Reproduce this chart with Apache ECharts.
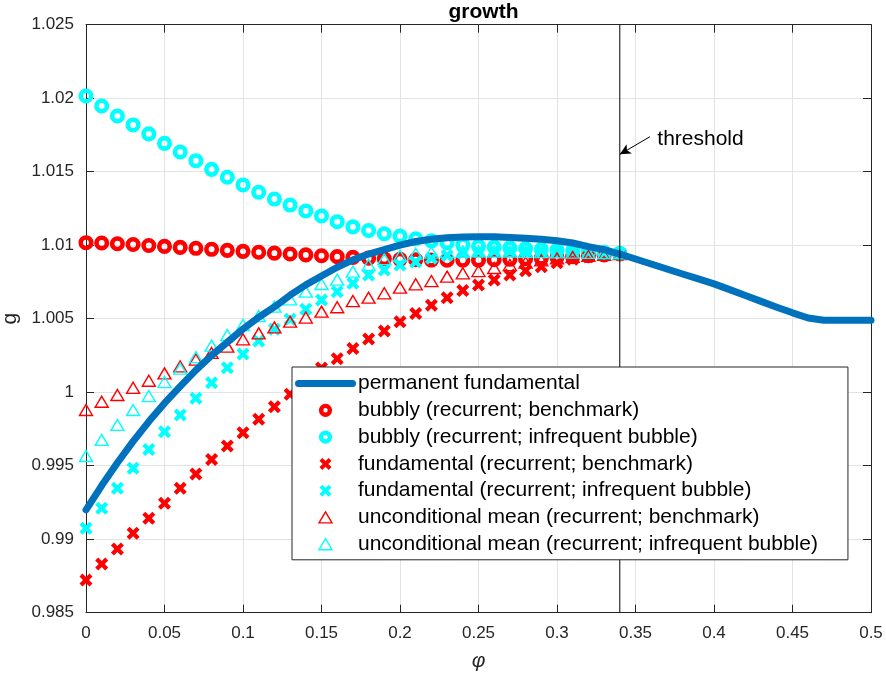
<!DOCTYPE html>
<html>
<head>
<meta charset="utf-8">
<script src="https://cdn.jsdelivr.net/npm/echarts/dist/echarts.min.js"></script>
<style>
html,body{margin:0;padding:0;background:#fff;}
#chart{width:886px;height:676px;}
</style>
</head>
<body>
<div id="chart"></div>
<script>
// ---------- data ----------
const phi = [0,0.01,0.02,0.03,0.04,0.05,0.06,0.07,0.08,0.09,0.10,0.11,0.12,0.13,0.14,0.15,0.16,0.17,0.18,0.19,0.20,0.21,0.22,0.23,0.24,0.25,0.26,0.27,0.28,0.29,0.30,0.31,0.32,0.33,0.34];

const bubblyBench = [1.01017,1.01015,1.01010,1.01005,1.00998,1.00992,1.00985,1.00979,1.00972,1.00965,1.00958,1.00952,1.00946,1.00940,1.00934,1.00928,1.00922,1.00917,1.00912,1.00908,1.00904,1.00901,1.00899,1.00898,1.00898,1.00899,1.00901,1.00904,1.00908,1.00912,1.00917,1.00922,1.00928,1.00934,1.00940];

const bubblyInfreq = [1.02015,1.01947,1.01879,1.01818,1.01757,1.01693,1.01634,1.01575,1.01516,1.01462,1.01410,1.01360,1.01314,1.01273,1.01233,1.01199,1.01160,1.01125,1.01100,1.01078,1.01062,1.01044,1.01030,1.01017,1.01003,1.00993,1.00987,1.00982,1.00977,1.00972,1.00967,1.00962,1.00957,1.00951,1.00945];

const fundBench = [0.98722,0.98831,0.98933,0.99040,0.99142,0.99244,0.99346,0.99443,0.99543,0.99634,0.99724,0.99816,0.99901,0.99986,1.00075,1.00165,1.00228,1.00298,1.00362,1.00416,1.00480,1.00535,1.00591,1.00642,1.00692,1.00729,1.00764,1.00798,1.00826,1.00854,1.00881,1.00904,1.00922,1.00933,1.00940];

const fundInfreq = [0.99074,0.99210,0.99346,0.99482,0.99611,0.99731,0.99845,0.99959,1.00065,1.00167,1.00260,1.00348,1.00428,1.00496,1.00564,1.00627,1.00684,1.00741,1.00797,1.00831,1.00865,1.00886,1.00911,1.00930,1.00945,1.00955,1.00960,1.00960,1.00960,1.00958,1.00956,1.00954,1.00951,1.00948,1.00945];

const uncondBench = [0.99879,0.99935,0.99981,1.00030,1.00078,1.00128,1.00175,1.00222,1.00267,1.00310,1.00360,1.00400,1.00441,1.00480,1.00508,1.00548,1.00578,1.00620,1.00643,1.00673,1.00711,1.00734,1.00756,1.00786,1.00809,1.00824,1.00845,1.00865,1.00882,1.00897,1.00910,1.00920,1.00928,1.00935,1.00940];

const uncondInfreq = [0.99566,0.99675,0.99777,0.99879,0.99974,1.00069,1.00160,1.00239,1.00317,1.00389,1.00457,1.00518,1.00582,1.00632,1.00684,1.00736,1.00766,1.00820,1.00865,1.00905,1.00928,1.00942,1.00950,1.00955,1.00957,1.00958,1.00957,1.00956,1.00955,1.00953,1.00951,1.00950,1.00948,1.00946,1.00945];

const permPhi = [0,0.01,0.02,0.03,0.04,0.05,0.06,0.07,0.08,0.09,0.10,0.11,0.12,0.13,0.14,0.15,0.16,0.17,0.18,0.19,0.20,0.21,0.22,0.23,0.24,0.25,0.26,0.27,0.28,0.29,0.30,0.31,0.32,0.33,0.34,0.35,0.36,0.37,0.38,0.39,0.40,0.41,0.42,0.43,0.44,0.45,0.46,0.47,0.48,0.49,0.50];
const permFund = [0.9920,0.99365,0.9952,0.99665,0.9980,0.99925,1.0004,1.0015,1.0025,1.0034,1.0043,1.0051,1.0058,1.0066,1.0073,1.0079,1.0085,1.0090,1.0094,1.0097,1.0100,1.01025,1.0104,1.0105,1.01055,1.01058,1.01057,1.01053,1.01047,1.0104,1.0103,1.01015,1.0099,1.0097,1.0094,1.00906,1.00872,1.00838,1.00804,1.00771,1.00737,1.00698,1.00658,1.00618,1.00578,1.00540,1.00505,1.0049,1.0049,1.0049,1.0049];

const threshold = 0.34;
const arrowFrom = [0.3592, 1.01738];
const arrowTo = [0.3400, 1.01618];
const thresholdTextAt = [0.3639, 1.01722];

const names = [
  'permanent fundamental',
  'bubbly (recurrent; benchmark)',
  'bubbly (recurrent; infrequent bubble)',
  'fundamental (recurrent; benchmark)',
  'fundamental (recurrent; infrequent bubble)',
  'unconditional mean (recurrent; benchmark)',
  'unconditional mean (recurrent; infrequent bubble)'
];

// ---------- styling ----------
const RED = '#FF0000', CYAN = '#00FFFF', BLUE = '#0072BD', AX = '#262626';
const FONT = '"Liberation Sans", Arial, Helvetica, sans-serif';
const X_PATH = 'path://M0,3L3,0L6.5,3.5L10,0L13,3L9.5,6.5L13,10L10,13L6.5,9.5L3,13L0,10L3.5,6.5Z';
// legend icons padded inside a 14x14 (or 61x14) box so they keep their size
const LEG_LINE = 'path://M0,0M61,14M3.5,3.5H57.5A3.5,3.5,0,0,1,57.5,10.5H3.5A3.5,3.5,0,0,1,3.5,3.5Z';
const LEG_CIRCLE = 'path://M0,0M14,14M11.4,7A4.4,4.4,0,1,1,2.6,7A4.4,4.4,0,1,1,11.4,7Z';
const LEG_X = 'path://M0,0M14,14M1,3.8L3.8,1L7,4.2L10.2,1L13,3.8L9.8,7L13,10.2L10.2,13L7,9.8L3.8,13L1,10.2L4.2,7Z';
const LEG_TRI = 'path://M0,0M14,14M7,1.4L13.5,12.4L0.5,12.4Z';

const zip = (xs, ys) => xs.map((x, i) => [x, ys[i]]);
const fmt = v => String(+v.toFixed(4));

function scatter(name, ys, kind, color) {
  const s = { name, type: 'scatter', data: zip(phi, ys), silent: true, animation: false };
  if (kind === 'o') {
    s.symbol = 'circle'; s.symbolSize = 10.5;
    s.itemStyle = { color: 'rgba(0,0,0,0)', borderColor: color, borderWidth: 4.6, opacity: 1 };
  } else if (kind === 'x') {
    s.symbol = X_PATH; s.symbolSize = 13;
    s.itemStyle = { color: color, borderWidth: 0, opacity: 1 };
  } else {
    s.symbol = 'triangle'; s.symbolSize = [13, 11];
    s.itemStyle = { color: 'rgba(0,0,0,0)', borderColor: color, borderWidth: 1.4, opacity: 1 };
  }
  return s;
}

const chart = echarts.init(document.getElementById('chart'), null, { renderer: 'canvas' });

const option = {
  animation: false,
  backgroundColor: '#fff',
  title: {
    text: 'growth', left: 478.5, top: -3, textAlign: 'center',
    textStyle: { fontFamily: FONT, fontSize: 21, fontWeight: 'bold', color: '#000' }
  },
  grid: { left: 86, right: 15, top: 24.7, bottom: 63.3, containLabel: false, outerBoundsMode: 'none' },
  xAxis: [
    {
      type: 'value', min: 0, max: 0.5, interval: 0.05, position: 'bottom',
      name: 'φ', nameLocation: 'middle', nameGap: 38,
      nameTextStyle: { fontFamily: FONT, fontSize: 21, fontStyle: 'italic', color: AX },
      axisLine: { show: true, onZero: false, lineStyle: { color: AX, width: 1 } },
      axisTick: { show: true, inside: true, length: 8, lineStyle: { color: AX } },
      axisLabel: { formatter: fmt, fontFamily: FONT, fontSize: 17, color: AX, margin: 12 },
      splitLine: { show: true, lineStyle: { color: '#e3e3e3', width: 1 } }
    },
    {
      type: 'value', min: 0, max: 0.5, interval: 0.05, position: 'top',
      axisLine: { show: true, onZero: false, lineStyle: { color: AX, width: 1 } },
      axisTick: { show: true, inside: true, length: 8, lineStyle: { color: AX } },
      axisLabel: { show: false }, splitLine: { show: false }
    }
  ],
  yAxis: [
    {
      type: 'value', min: 0.985, max: 1.025, interval: 0.005, position: 'left',
      name: 'g', nameLocation: 'middle', nameGap: 55, nameRotate: 90,
      nameTextStyle: { fontFamily: FONT, fontSize: 21, color: AX },
      axisLine: { show: true, onZero: false, lineStyle: { color: AX, width: 1 } },
      axisTick: { show: true, inside: true, length: 8, lineStyle: { color: AX } },
      axisLabel: { formatter: fmt, fontFamily: FONT, fontSize: 17, color: AX, margin: 12 },
      splitLine: { show: true, lineStyle: { color: '#e3e3e3', width: 1 } }
    },
    {
      type: 'value', min: 0.985, max: 1.025, interval: 0.005, position: 'right',
      axisLine: { show: true, onZero: false, lineStyle: { color: AX, width: 1 } },
      axisTick: { show: true, inside: true, length: 8, lineStyle: { color: AX } },
      axisLabel: { show: false }, splitLine: { show: false }
    }
  ],
  legend: {
    orient: 'vertical', left: 292, top: 367,
    itemWidth: 61, itemHeight: 14, itemGap: 5.8,
    padding: [6, 30, 5, 3],
    backgroundColor: '#fff', borderColor: AX, borderWidth: 1, borderRadius: 0,
    selectedMode: false,
    textStyle: { fontFamily: FONT, fontSize: 21, color: '#000', padding: [0, 0, 0, -3] },
    data: [
      { name: names[0], icon: LEG_LINE, itemStyle: { color: BLUE, borderWidth: 0, opacity: 1 } },
      { name: names[1], icon: LEG_CIRCLE, itemStyle: { color: 'rgba(0,0,0,0)', borderColor: RED, borderWidth: 4.4, opacity: 1 } },
      { name: names[2], icon: LEG_CIRCLE, itemStyle: { color: 'rgba(0,0,0,0)', borderColor: CYAN, borderWidth: 4.4, opacity: 1 } },
      { name: names[3], icon: LEG_X, itemStyle: { color: RED, borderWidth: 0, opacity: 1 } },
      { name: names[4], icon: LEG_X, itemStyle: { color: CYAN, borderWidth: 0, opacity: 1 } },
      { name: names[5], icon: LEG_TRI, itemStyle: { color: 'rgba(0,0,0,0)', borderColor: RED, borderWidth: 1.4, opacity: 1 } },
      { name: names[6], icon: LEG_TRI, itemStyle: { color: 'rgba(0,0,0,0)', borderColor: CYAN, borderWidth: 1.4, opacity: 1 } }
    ]
  },
  series: [
    {
      name: names[0], type: 'line', data: zip(permPhi, permFund), smooth: false,
      symbol: 'none', showSymbol: false, silent: true,
      lineStyle: { color: BLUE, width: 7, cap: 'round', join: 'round' },
      itemStyle: { color: BLUE }
    },
    scatter(names[1], bubblyBench, 'o', RED),
    scatter(names[2], bubblyInfreq, 'o', CYAN),
    scatter(names[3], fundBench, 'x', RED),
    scatter(names[4], fundInfreq, 'x', CYAN),
    scatter(names[5], uncondBench, '^', RED),
    scatter(names[6], uncondInfreq, '^', CYAN),
    {
      name: 'threshold', type: 'line', silent: true,
      data: [[threshold, 0.985], [threshold, 1.025]],
      symbol: 'none', showSymbol: false,
      lineStyle: { color: '#000', width: 1 },
      markLine: {
        silent: true, animation: false,
        symbol: ['none', 'arrow'], symbolSize: [8, 11],
        label: { show: false },
        lineStyle: { color: '#000', width: 1, type: 'solid' },
        data: [[{ coord: arrowFrom }, { coord: arrowTo }]]
      },
      markPoint: {
        silent: true, animation: false,
        data: [{
          coord: thresholdTextAt, symbol: 'circle', symbolSize: 0,
          label: { show: true, formatter: 'threshold', position: 'right', distance: 0,
                   fontFamily: FONT, fontSize: 21, color: '#000' }
        }]
      }
    }
  ]
};

chart.setOption(option);
</script>
</body>
</html>
